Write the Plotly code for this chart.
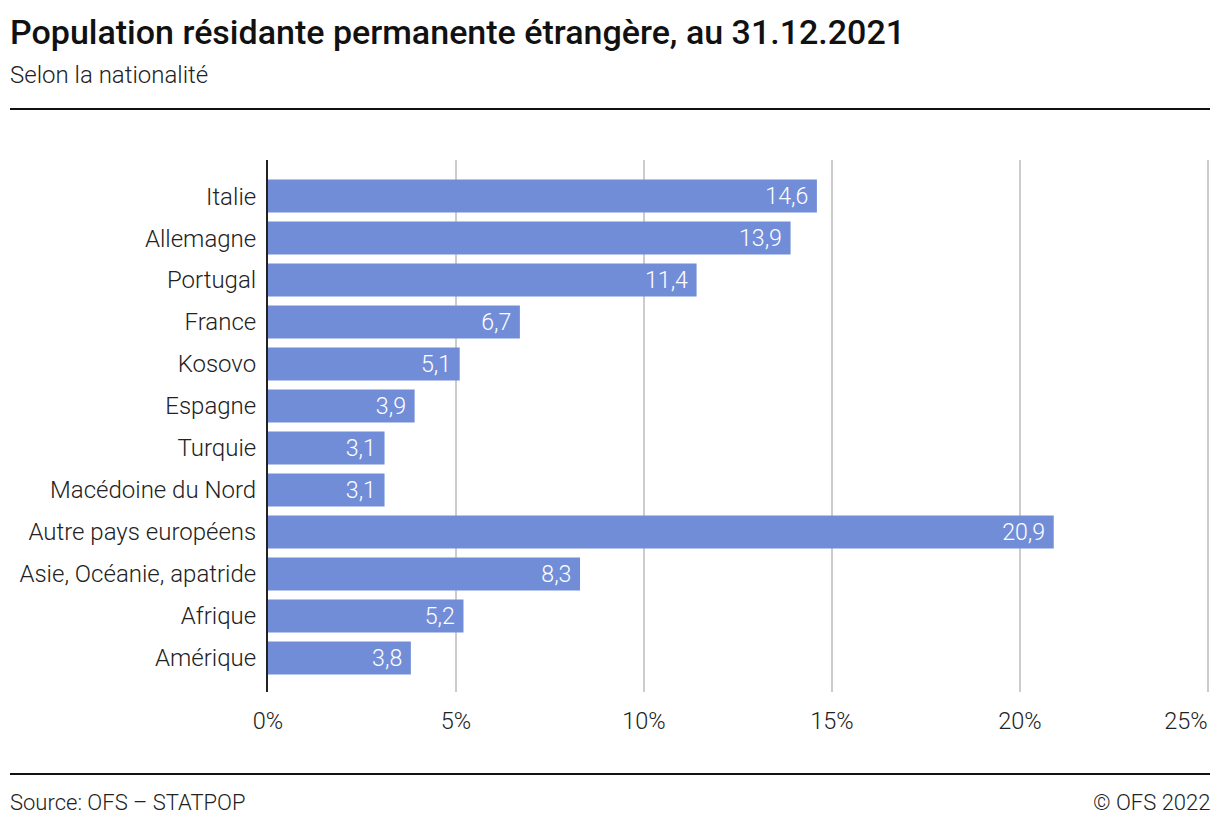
import plotly.graph_objects as go

categories = ["Italie", "Allemagne", "Portugal", "France", "Kosovo", "Espagne",
              "Turquie", "Macédoine du Nord", "Autre pays européens",
              "Asie, Océanie, apatride", "Afrique", "Amérique"]
values = [14.6, 13.9, 11.4, 6.7, 5.1, 3.9, 3.1, 3.1, 20.9, 8.3, 5.2, 3.8]
tick_vals = [0, 5, 10, 15, 20, 25]
tick_text = ["0%", "5%", "10%", "15%", "20%", "25%"]

FONT = "Roboto"
OFF = 8  # default page body margin
W, H = 1220 - OFF, 826 - OFF
L = 268 - OFF
R = 1220 - 1209
T = 160 - OFF
B = 826 - 692
PW = W - L - R
PH = H - T - B
XMAX = 25.03

def px_x(p):  # page pixel -> paper x
    return (p - OFF - L) / PW

def px_y(p):  # page pixel -> paper y
    return (T + PH - (p - OFF)) / PH

labels = [f"{v:.1f}".replace(".", ",") + " " for v in values]

fig = go.Figure()
# empty helper trace so that the secondary x axis (last tick label) is drawn
fig.add_trace(go.Scatter(x=[], y=[], xaxis="x2", yaxis="y", mode="markers",
                         hoverinfo="skip", showlegend=False))
fig.add_trace(go.Bar(
    x=values, y=categories, orientation="h",
    marker=dict(color="#728dd8", line=dict(width=0)),
    text=labels, textposition="inside", insidetextanchor="end",
    textfont=dict(family=FONT, size=24, color="white", weight=300),
    cliponaxis=False, hoverinfo="skip",
))

n = len(categories)
tickfont = dict(family=FONT, size=23.5, color="#222222", weight=300)
fig.update_layout(
    width=W, height=H, autosize=False,
    margin=dict(l=L, r=R, t=T, b=B, autoexpand=False),
    paper_bgcolor="white", plot_bgcolor="white",
    font=dict(family=FONT, size=24, color="#222222", weight=300),
    bargap=0.214,
    showlegend=False,
    xaxis=dict(range=[0, XMAX], tickvals=tick_vals[:-1], ticktext=tick_text[:-1],
               automargin=False,
               showgrid=True, gridcolor="#cccccc", gridwidth=2,
               zeroline=False, showline=False,
               ticks="outside", ticklen=8, tickcolor="rgba(0,0,0,0)",
               tickfont=tickfont, fixedrange=True),
    xaxis2=dict(range=[0, XMAX], tickvals=tick_vals[-1:], ticktext=tick_text[-1:],
                overlaying="x", anchor="y", side="bottom",
                automargin=False,
                showgrid=True, gridcolor="#cccccc", gridwidth=2,
                zeroline=False, showline=False,
                ticks="outside", ticklen=8, tickcolor="rgba(0,0,0,0)",
                ticklabelshift=-22, ticklabeloverflow="allow",
                tickfont=tickfont, fixedrange=True),
    yaxis=dict(categoryorder="array", categoryarray=categories,
               range=[n - 1 + 0.81, -0.86],
               automargin=False,
               showgrid=False, zeroline=False,
               showline=True, linecolor="#222222", linewidth=2,
               ticks="outside", ticklen=5, tickcolor="rgba(0,0,0,0)",
               tickfont=dict(family=FONT, size=24, color="#222222", weight=300),
               fixedrange=True),
    annotations=[
        dict(text="Population résidante permanente étrangère, au 31.12.2021",
             xref="paper", yref="paper", x=px_x(8), y=px_y(32),
             xanchor="left", yanchor="middle", showarrow=False,
             font=dict(family=FONT, size=34, color="#111111", weight=500)),
        dict(text="Selon la nationalité",
             xref="paper", yref="paper", x=px_x(8), y=px_y(75),
             xanchor="left", yanchor="middle", showarrow=False,
             font=dict(family=FONT, size=24, color="#222222", weight=300)),
        dict(text="Source: OFS – STATPOP",
             xref="paper", yref="paper", x=px_x(8), y=px_y(802),
             xanchor="left", yanchor="middle", showarrow=False,
             font=dict(family=FONT, size=22, color="#222222", weight=300)),
        dict(text="© OFS 2022",
             xref="paper", yref="paper", x=px_x(1212), y=px_y(802),
             xanchor="right", yanchor="middle", showarrow=False,
             font=dict(family=FONT, size=22, color="#222222", weight=300)),
    ],
    shapes=[
        dict(type="line", xref="paper", yref="paper",
             x0=px_x(10), x1=px_x(1210), y0=px_y(109), y1=px_y(109),
             line=dict(color="#111111", width=2)),
        dict(type="line", xref="paper", yref="paper",
             x0=px_x(10), x1=px_x(1210), y0=px_y(774), y1=px_y(774),
             line=dict(color="#111111", width=2)),
    ],
)

fig.write_html("out.html", config={"displayModeBar": False})
